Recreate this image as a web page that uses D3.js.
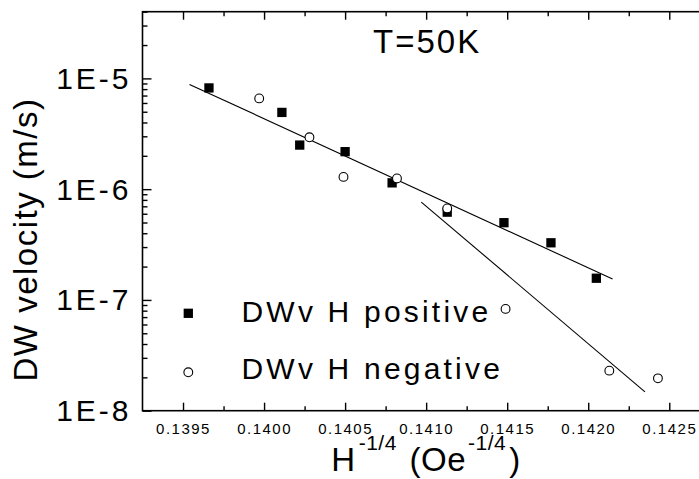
<!doctype html>
<html lang="en">
  <head>
    <meta charset="UTF-8" />
    <title>DW velocity vs H^-1/4</title>
    <script src="https://d3js.org/d3.v7.min.js"></script>
    <style>
      body {
        margin: 0;
        padding: 0;
        overflow: hidden;
        background: #fff;
        font-family: "Liberation Sans", Arial, sans-serif;
      }
      svg {
        display: block;
      }
    </style>
  </head>
  <body>
    <script>
      // data
      const posX = [0.13966, 0.14011, 0.14022, 0.1405, 0.14079, 0.14113, 0.14148, 0.14177, 0.14205];
      const posV = [8.2e-6, 4.93e-6, 2.5e-6, 2.18e-6, 1.14e-6, 6.2e-7, 4.98e-7, 3.28e-7, 1.57e-7];
      const negX = [0.13997, 0.14028, 0.14049, 0.14082, 0.14113, 0.14149, 0.14213, 0.14243];
      const negV = [6.6e-6, 2.94e-6, 1.29e-6, 1.25e-6, 6.7e-7, 8.3e-8, 2.3e-8, 1.96e-8];
      // linear fits (end points)
      const fitPosX = [0.13954, 0.14215];
      const fitPosV = [8.83e-6, 1.545e-7];
      const fitNegX = [0.14097, 0.14235];
      const fitNegV = [7.65e-7, 1.48e-8];

      const xTicks = [0.1395, 0.14, 0.1405, 0.141, 0.1415, 0.142, 0.1425];
      const xMinor = [0.13975, 0.14025, 0.14075, 0.14125, 0.14175, 0.14225, 0.14275];
      const yTicks = [1e-8, 1e-7, 1e-6, 1e-5];
      const yLabels = ["1E-8", "1E-7", "1E-6", "1E-5"];
      const legendNames = ["DWv H positive", "DWv H negative"];

      const width = 699;
      const height = 479;
      const mLeft = 142.5, mRight = 709.8, mTop = 11.7, mBottom = 410.7;

      const x = d3.scaleLinear().domain([0.13925, 0.14275]).range([mLeft, mRight]);
      const y = d3.scaleLog().domain([1e-8, 4e-5]).range([mBottom, mTop]);

      const yMinor = [];
      for (let e = -8; e <= -5; e++) {
        for (let m = 2; m <= 9; m++) {
          const v = m * Math.pow(10, e);
          if (v <= 4e-5) yMinor.push(v);
        }
      }

      const svg = d3.select("body").append("svg").attr("width", width).attr("height", height);

      // frame
      svg
        .append("rect")
        .attr("x", mLeft)
        .attr("y", mTop)
        .attr("width", mRight - mLeft)
        .attr("height", mBottom - mTop)
        .attr("fill", "none")
        .attr("stroke", "#000")
        .attr("stroke-width", 1.6);

      function styleAxis(g) {
        g.select(".domain").remove();
        g.selectAll(".tick line").attr("stroke", "#000").attr("stroke-width", 1.4);
      }

      // bottom axis
      svg
        .append("g")
        .attr("transform", `translate(0,${mBottom})`)
        .call(d3.axisBottom(x).tickValues(xTicks).tickSizeInner(-8).tickSizeOuter(0).tickPadding(13).tickFormat(d3.format(".4f")))
        .call(styleAxis)
        .call((g) =>
          g
            .selectAll("text")
            .attr("font-family", "Liberation Sans, Arial, sans-serif")
            .attr("font-size", 15)
            .attr("letter-spacing", 1.5)
            .attr("fill", "#000")
            .attr("dy", "0.71em")
        );
      svg
        .append("g")
        .attr("transform", `translate(0,${mBottom})`)
        .call(d3.axisBottom(x).tickValues(xMinor).tickSizeInner(-4.5).tickSizeOuter(0).tickFormat(""))
        .call(styleAxis);

      // top axis
      svg
        .append("g")
        .attr("transform", `translate(0,${mTop})`)
        .call(d3.axisTop(x).tickValues(xTicks).tickSizeInner(-8).tickSizeOuter(0).tickFormat(""))
        .call(styleAxis);
      svg
        .append("g")
        .attr("transform", `translate(0,${mTop})`)
        .call(d3.axisTop(x).tickValues(xMinor).tickSizeInner(-4.5).tickSizeOuter(0).tickFormat(""))
        .call(styleAxis);

      // left axis
      svg
        .append("g")
        .attr("transform", `translate(${mLeft},0)`)
        .call(
          d3
            .axisLeft(y)
            .tickValues(yTicks)
            .tickSizeInner(-9)
            .tickSizeOuter(0)
            .tickPadding(11)
            .tickFormat((d, i) => yLabels[i])
        )
        .call(styleAxis)
        .call((g) =>
          g
            .selectAll("text")
            .attr("font-family", "Liberation Sans, Arial, sans-serif")
            .attr("font-size", 30)
            .attr("letter-spacing", 3)
            .attr("fill", "#000")
            .attr("dy", "0.33em")
        );
      svg
        .append("g")
        .attr("transform", `translate(${mLeft},0)`)
        .call(d3.axisLeft(y).tickValues(yMinor).tickSizeInner(-5).tickSizeOuter(0).tickFormat(""))
        .call(styleAxis);

      // fit lines
      const line = d3
        .line()
        .x((d) => x(d[0]))
        .y((d) => y(d[1]));
      [
        [fitPosX, fitPosV],
        [fitNegX, fitNegV],
      ].forEach(([xs, vs]) => {
        svg
          .append("path")
          .attr("d", line(xs.map((v, i) => [v, vs[i]])))
          .attr("fill", "none")
          .attr("stroke", "#000")
          .attr("stroke-width", 1.1);
      });

      // points
      const sq = 9.3;
      svg
        .append("g")
        .selectAll("rect")
        .data(posX.map((v, i) => [v, posV[i]]))
        .join("rect")
        .attr("x", (d) => x(d[0]) - sq / 2)
        .attr("y", (d) => y(d[1]) - sq / 2)
        .attr("width", sq)
        .attr("height", sq)
        .attr("fill", "#000");

      svg
        .append("g")
        .selectAll("circle")
        .data(negX.map((v, i) => [v, negV[i]]))
        .join("circle")
        .attr("cx", (d) => x(d[0]))
        .attr("cy", (d) => y(d[1]))
        .attr("r", 4.4)
        .attr("fill", "#fff")
        .attr("stroke", "#000")
        .attr("stroke-width", 1.1);

      // legend
      const legend = svg.append("g");
      legend
        .append("rect")
        .attr("x", 188.3 - sq / 2)
        .attr("y", 313.3 - sq / 2)
        .attr("width", sq)
        .attr("height", sq)
        .attr("fill", "#000");
      legend
        .append("circle")
        .attr("cx", 188.3)
        .attr("cy", 372.3)
        .attr("r", 4.4)
        .attr("fill", "#fff")
        .attr("stroke", "#000")
        .attr("stroke-width", 1.1);
      legend
        .selectAll("text")
        .data(legendNames)
        .join("text")
        .attr("x", 241.5)
        .attr("y", (d, i) => (i === 0 ? 321.7 : 379))
        .attr("font-size", 30)
        .attr("letter-spacing", 3.2)
        .attr("fill", "#000")
        .text((d) => d);

      // annotation
      svg
        .append("text")
        .attr("x", 373)
        .attr("y", 53.3)
        .attr("font-size", 33)
        .attr("letter-spacing", 2)
        .attr("fill", "#000")
        .text("T=50K");

      // axis titles
      svg
        .append("text")
        .attr("transform", "translate(37,239.5) rotate(-90)")
        .attr("text-anchor", "middle")
        .attr("font-size", 33)
        .attr("letter-spacing", 1.5)
        .attr("fill", "#000")
        .text("DW velocity (m/s)");

      const xt = svg
        .append("text")
        .attr("x", 426)
        .attr("y", 471)
        .attr("text-anchor", "middle")
        .attr("font-size", 33)
        .attr("letter-spacing", 0.5)
        .attr("fill", "#000");
      xt.append("tspan").text("H");
      xt.append("tspan").attr("font-size", 21).attr("dy", -21).attr("dx", 3).text("-1/4");
      xt.append("tspan").attr("dy", 21).attr("dx", 3).text(" (Oe");
      xt.append("tspan").attr("font-size", 21).attr("dy", -21).attr("dx", 2).text("-1/4");
      xt.append("tspan").attr("dy", 21).attr("dx", 3).text(")");
    </script>
  </body>
</html>
